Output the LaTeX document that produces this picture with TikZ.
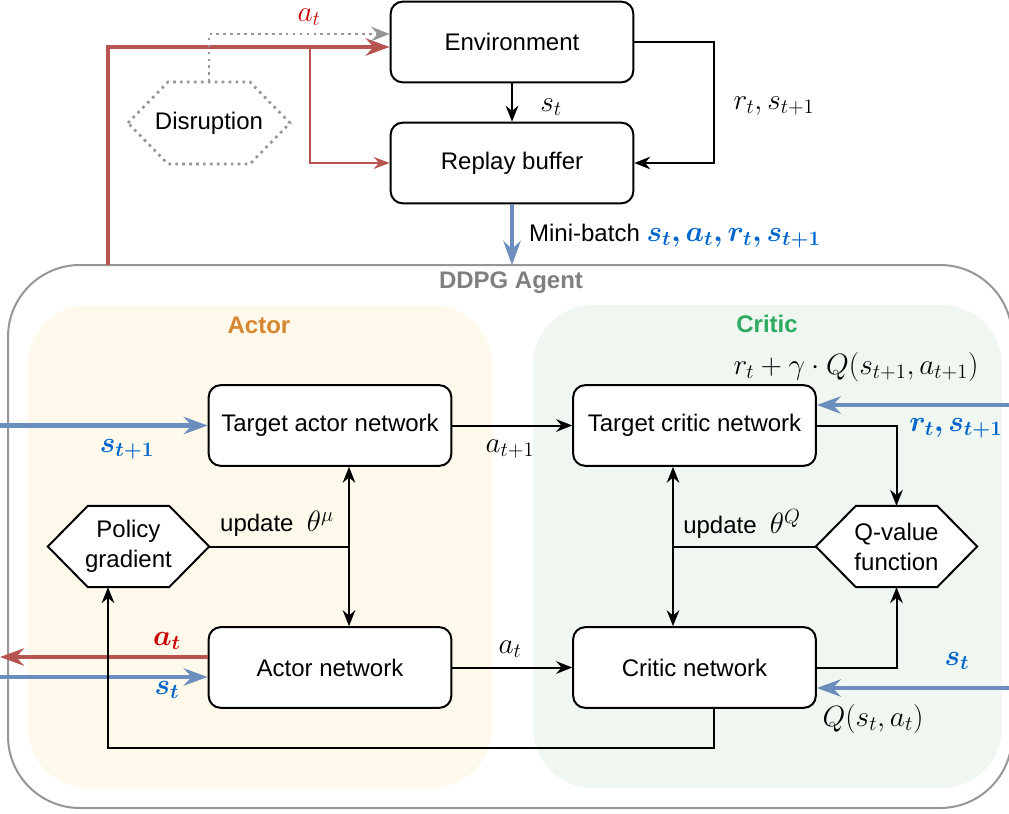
\RequirePackage{fix-cm}
\documentclass[tikz,border=0pt]{standalone}
\usepackage{amsmath,bm}
\usepackage[no-math]{fontspec}
\setmainfont{Liberation Sans}
\usetikzlibrary{arrows.meta,calc}
\pgfdeclarelayer{bg}
\pgfdeclarelayer{mid}
\pgfsetlayers{bg,mid,main}
\definecolor{redline}{RGB}{184,84,80}
\definecolor{blueline}{RGB}{108,142,191}
\definecolor{bluetxt}{RGB}{0,102,204}
\definecolor{redtxt}{RGB}{204,0,0}
\definecolor{grayline}{RGB}{150,150,150}
\definecolor{graytxt}{RGB}{128,128,128}
\definecolor{actorfill}{RGB}{255,249,236}
\definecolor{criticfill}{RGB}{240,247,240}
\definecolor{actortxt}{RGB}{214,134,46}
\definecolor{critictxt}{RGB}{46,170,96}
\tikzset{
  txt/.style={font=\fontsize{18}{22.5}\selectfont},
  netbox/.style={draw=black, line width=1.5pt, rounded corners=9pt, fill=white,
    minimum width=182pt, minimum height=60.5pt, inner sep=0pt, txt},
  hexa/.style={draw=none, inner sep=0pt, outer sep=0pt, align=center,
    minimum width=121pt, minimum height=61pt, txt},
  hexline/.style={draw=black, line width=1.5pt, fill=white, line join=miter},
  dotline/.style={draw=grayline, line width=2pt, dash pattern=on 2pt off 3.2pt},
  lab/.style={font=\fontsize{22}{26}\selectfont, inner sep=0pt},
  blk/.style={draw=black, line width=1.5pt, -{Stealth[length=12pt,width=9.5pt,inset=4pt]}},
  blkln/.style={draw=black, line width=1.5pt},
  dbl/.style={draw=black, line width=1.5pt, {Stealth[length=12pt,width=9.5pt,inset=4pt]}-{Stealth[length=12pt,width=9.5pt,inset=4pt]}},
  bluearr/.style={draw=blueline, line width=3.5pt, -{Stealth[length=18pt,width=13pt,inset=6pt]}},
  redarr/.style={draw=redline, line width=3.5pt, -{Stealth[length=18pt,width=13pt,inset=6pt]}},
  redthin/.style={draw=redline, line width=1.1pt, -{Stealth[length=12pt,width=9pt,inset=4pt]}},
  grayarr/.style={dotline, -{Stealth[length=14pt,width=11pt,inset=5pt]}},
}
\begin{document}
\begin{tikzpicture}[x=0.75pt,y=-0.75pt]
\useasboundingbox (0,0) rectangle (1009,813);
% agent container and regions
\begin{pgfonlayer}{bg}
\draw[grayline, line width=1.5pt, rounded corners=54pt] (8,265) rectangle (1012,808);
\fill[actorfill, rounded corners=45pt] (28,305) rectangle (492,788);
\fill[criticfill, rounded corners=45pt] (533,305) rectangle (1002,788);
\end{pgfonlayer}
\node[txt, font=\bfseries\fontsize{18}{22}\selectfont, text=graytxt] (agtitle) at (511,283) {DDPG Agent};
\node[txt, font=\bfseries\fontsize{18}{22}\selectfont, text=actortxt] (actitle) at (259,325) {Actor};
\node[txt, font=\bfseries\fontsize{18}{22}\selectfont, text=critictxt] (crtitle) at (767,324) {Critic};

% nodes
\node[netbox] (env) at (512,42) {Environment};
\node[netbox] (rb) at (512,163) {Replay buffer};
\node[hexa, minimum width=121.5pt, minimum height=61.5pt] (dis) at (209,123) {Disruption};
\node[netbox] (ta) at (330,425.5) {Target actor network};
\node[netbox] (an) at (330,667.5) {Actor network};
\node[netbox] (tc) at (694.5,425.5) {Target critic network};
\node[netbox] (cn) at (694.5,667.5) {Critic network};
\node[hexa] (pg) at (128.5,546.5) {Policy\\gradient};
\node[hexa] (qv) at (896.5,546.5) {Q-value\\function};

% hexagon outlines
\begin{pgfonlayer}{mid}
\draw[dotline, fill=white] (dis.west) -- ($(dis.north west)+(40,0)$) -- ($(dis.north east)-(40,0)$) -- (dis.east) -- ($(dis.south east)-(40,0)$) -- ($(dis.south west)+(40,0)$) -- cycle;
\draw[hexline] (pg.west) -- ($(pg.north west)+(40,0)$) -- ($(pg.north east)-(40,0)$) -- (pg.east) -- ($(pg.south east)-(40,0)$) -- ($(pg.south west)+(40,0)$) -- cycle;
\draw[hexline] (qv.west) -- ($(qv.north west)+(40,0)$) -- ($(qv.north east)-(40,0)$) -- (qv.east) -- ($(qv.south east)-(40,0)$) -- ($(qv.south west)+(40,0)$) -- cycle;
\end{pgfonlayer}

% coordinates
\coordinate (redstart) at (108,265);
\coordinate (redy) at (0,47);
\coordinate (grayy) at (0,34);
\coordinate (redbranch) at (310,45);
\coordinate (inA) at (0,425.5);
\coordinate (ux) at (349,0);
\coordinate (ux2) at (673,0);
\coordinate (outA) at (0,657);
\coordinate (inS) at (0,677);
\coordinate (cb) at (714,748);
\coordinate (pgx) at (108,748);
\coordinate (inR) at (1009,405);
\coordinate (inS2) at (1009,688);

% top connectors
\draw[blk] (env.south) -- (rb.north);
\draw[blk] (env.east) -- ++(80,0) |- (rb.east);
\draw[redarr] (redstart) |- (env.west |- redy);
\draw[redthin] (redbranch) |- (rb.west);
\draw[grayarr] (dis.north) |- (env.west |- grayy);
\draw[bluearr] (rb.south) -- (rb.south |- redstart);

% agent connectors
\draw[bluearr] (inA) -- (ta.west);
\draw[blk] (ta.east) -- (tc.west);
\draw[dbl] (ta.south -| ux) -- (an.north -| ux);
\draw[blkln] (pg.east) -- (pg.east -| ux);
\draw[redarr] (an.west |- outA) -- (outA);
\draw[bluearr] (inS) -- (an.west |- inS);
\draw[blk] (an.east) -- (cn.west);
\draw[blk] (cn.south -| cb) -- (cb) -- (pgx) -- (pg.south -| pgx);
\draw[dbl] (tc.south -| ux2) -- (cn.north -| ux2);
\draw[blkln] (qv.west) -- (qv.west -| ux2);
\draw[blk] (tc.east) -| (qv.north);
\draw[blk] (cn.east) -| (qv.south);
\draw[bluearr] (inR) -- (tc.east |- inR);
\draw[bluearr] (inS2) -- (cn.east |- inS2);

% labels
\node[lab, text=redtxt] (latop) at (309,17) {$a_t$};
\node[lab] (lst) at (551,107) {$s_t$};
\node[lab] (lrs) at (774,106) {$r_t, s_{t+1}$};
\node[txt, inner sep=0pt] (lmb) at (675,236) {Mini-batch {\fontsize{22}{26}\selectfont$\color{bluetxt}\bm{s_t, a_t, r_t, s_{t+1}}$}};
\node[lab, text=bluetxt] (lst1) at (127,449) {$\bm{s_{t+1}}$};
\node[lab] (lat1) at (510,449) {$a_{t+1}$};
\node[lab] (ltarget) at (856,367) {$r_t+\gamma\cdot Q(s_{t+1},a_{t+1})$};
\node[lab, text=bluetxt] (lrs2) at (956,428) {$\bm{r_t, s_{t+1}}$};
\node[txt, inner sep=0pt] (lupa) at (277,524) {update\hspace{10pt}{\fontsize{22}{26}\selectfont$\theta^{\mu}$}};
\node[txt, inner sep=0pt] (lupc) at (742,524) {update\hspace{10pt}{\fontsize{22}{26}\selectfont$\theta^{Q}$}};
\node[lab, text=redtxt] (lat) at (167,641) {$\bm{a_t}$};
\node[lab, text=bluetxt] (lsta) at (167,690) {$\bm{s_t}$};
\node[lab] (lat2) at (510,649) {$a_t$};
\node[lab, text=bluetxt] (lstc) at (957,661) {$\bm{s_t}$};
\node[lab] (lq) at (873,719) {$Q(s_t,a_t)$};
\end{tikzpicture}
\end{document}
